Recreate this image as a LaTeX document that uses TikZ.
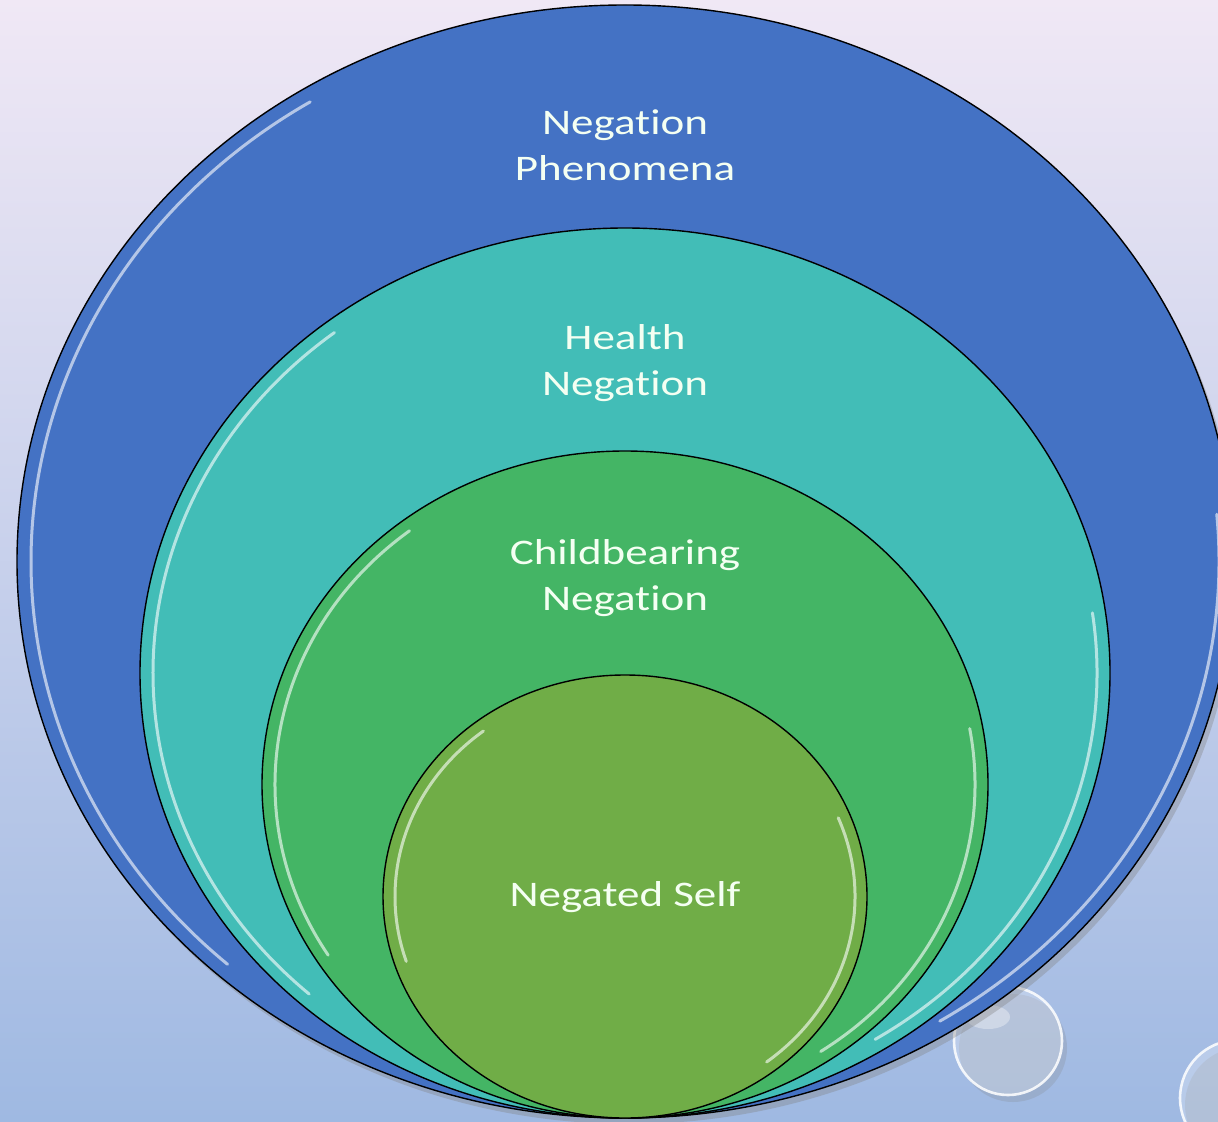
\documentclass[tikz,border=0pt]{standalone}
\usepackage{fontspec}
\setmainfont{Carlito}[Ligatures=NoCommon, FakeStretch=1.25]
\usetikzlibrary{shapes.geometric,shadows}
\definecolor{bgtop}{HTML}{F0E8F5}
\definecolor{bgbot}{HTML}{9FB9E2}
\definecolor{cblue}{HTML}{4472C4}
\definecolor{cteal}{HTML}{42BDB7}
\definecolor{cgreen}{HTML}{44B565}
\definecolor{clime}{HTML}{70AD47}
\definecolor{txt}{HTML}{F4FFF2}
\tikzset{
  ring/.style={ellipse, draw=black, line width=0.7pt, inner sep=0pt, outer sep=0pt},
  rim/.style={draw=white, line width=1.5pt, opacity=0.6, line cap=round},
  label/.style={text=txt, font=\fontsize{18}{23}\selectfont, align=center},
  bubble/.style={draw=white, line width=1.3pt, fill=white, fill opacity=0.25, draw opacity=0.85}
}
\begin{document}
\begin{tikzpicture}[x=0.5pt,y=0.5pt]
\useasboundingbox (0,0) rectangle (1218,1121);
\begin{scope}
\clip (0,0) rectangle (1218,1121);
\shade[top color=bgtop, bottom color=bgbot] (0,0) rectangle (1218,1121);
% bubbles (behind the rings)
\fill[gray, opacity=0.22] (1013,73) circle[radius=27pt];
\node[bubble, circle, minimum size=54pt, inner sep=0pt] (b1) at (1008,80) {};
\fill[white, opacity=0.35] (988,104) ellipse[x radius=11pt, y radius=6pt];
\fill[gray, opacity=0.22] (1243,16) circle[radius=29pt];
\node[bubble, circle, minimum size=58pt, inner sep=0pt] (b2) at (1238,23) {};
% rings
\node[ring, fill=cblue, minimum width=608pt, minimum height=556.5pt,
      drop shadow={shadow xshift=2pt, shadow yshift=-3pt, opacity=0.35}] (r1) at (625,559.5) {};
\draw[rim] (r1.center) ++(122:297pt and 271pt) arc[start angle=122, end angle=228, x radius=297pt, y radius=271pt];
\draw[rim] (r1.center) ++(-58:297pt and 271pt) arc[start angle=-58, end angle=5, x radius=297pt, y radius=271pt];
\node[ring, fill=cteal, minimum width=485pt, minimum height=445pt] (r2) at (625,448) {};
\draw[rim] (r2.center) ++(128:236pt and 216pt) arc[start angle=128, end angle=228, x radius=236pt, y radius=216pt];
\draw[rim] (r2.center) ++(-58:236pt and 216pt) arc[start angle=-58, end angle=8, x radius=236pt, y radius=216pt];
\node[ring, fill=cgreen, minimum width=363pt, minimum height=333.5pt] (r3) at (625,336.5) {};
\draw[rim] (r3.center) ++(128:175pt and 161pt) arc[start angle=128, end angle=212, x radius=175pt, y radius=161pt];
\draw[rim] (r3.center) ++(-56:175pt and 161pt) arc[start angle=-56, end angle=10, x radius=175pt, y radius=161pt];
\node[ring, fill=clime, minimum width=242pt, minimum height=221.5pt] (r4) at (625,224.5) {};
\draw[rim] (r4.center) ++(128:115pt and 105pt) arc[start angle=128, end angle=198, x radius=115pt, y radius=105pt];
\draw[rim] (r4.center) ++(-52:115pt and 105pt) arc[start angle=-52, end angle=22, x radius=115pt, y radius=105pt];
\end{scope}
% labels
\node[label] (t1) at (625,976) {Negation\\Phenomena};
\node[label] (t2) at (625,758) {Health\\Negation};
\node[label] (t3) at (625,543) {Childbearing\\Negation};
\node[label] (t4) at (625,224) {Negated Self};
\end{tikzpicture}
\end{document}
